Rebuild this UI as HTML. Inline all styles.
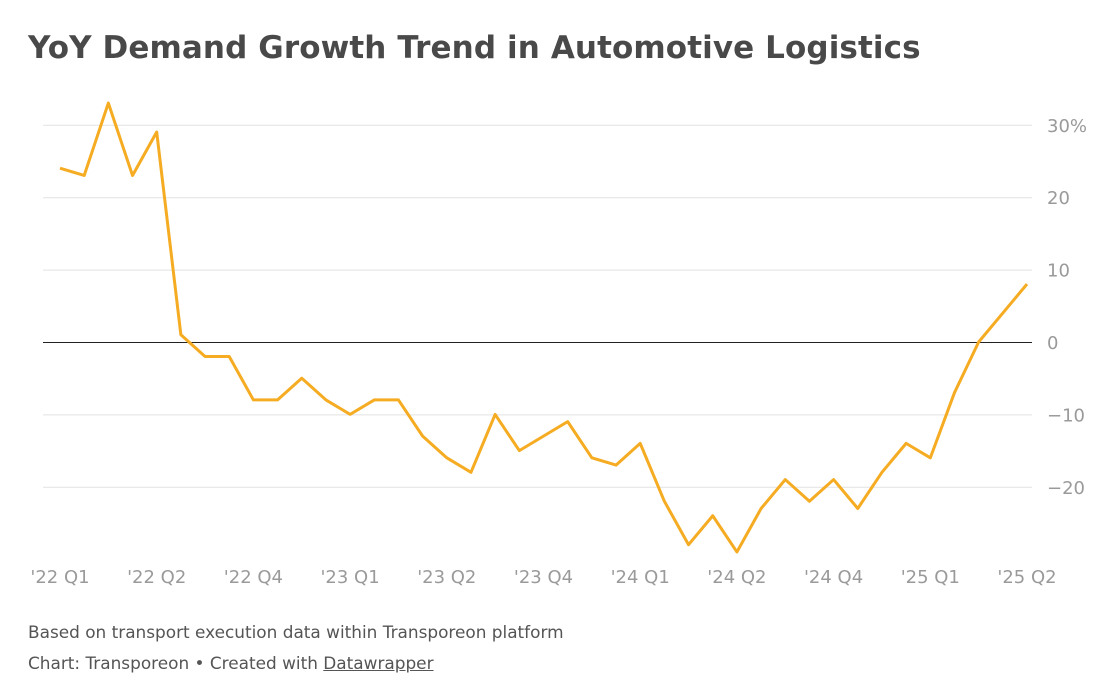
<!DOCTYPE html>
<html><head><meta charset="utf-8"><style>
body{margin:0;background:#fff;width:1113px;height:690px;overflow:hidden;font-family:"DejaVu Sans",sans-serif}
#title{position:absolute;left:28px;top:30px;font-size:31px;font-weight:bold;color:#494949;margin:0;letter-spacing:0.1px;white-space:nowrap}
.foot{position:absolute;left:28px;font-size:16.9px;color:#555;white-space:nowrap}
</style></head><body>
<h1 id="title">YoY Demand Growth Trend in Automotive Logistics</h1>
<svg id="chart" width="1113" height="600" style="position:absolute;left:0;top:0"></svg>
<div class="foot" style="top:622px">Based on transport execution data within Transporeon platform</div>
<div class="foot" style="top:653px">Chart: Transporeon • Created with <span style="text-decoration:underline">Datawrapper</span></div>
<script>
const values=[24,23,33,23,29,1,-2,-2,-8,-8,-5,-8,-10,-8,-8,-13,-16,-18,-10,-15,-13,-11,-16,-17,-14,-22,-28,-24,-29,-23,-19,-22,-19,-23,-18,-14,-16,-7,0,4,8];
const xLabels=["'22 Q1","'22 Q2","'22 Q4","'23 Q1","'23 Q2","'23 Q4","'24 Q1","'24 Q2","'24 Q4","'25 Q1","'25 Q2"];
const yTicks=[30,20,10,0,-10,-20];
const yTickLabels=["30%","20","10","0","−10","−20"];
const svg=document.getElementById('chart');
const NS='http://www.w3.org/2000/svg';
const x=i=>60+i*(1027-60)/(values.length-1);
const y=v=>342-v*7.24;
function mk(t,a){const e=document.createElementNS(NS,t);for(const k in a)e.setAttribute(k,a[k]);svg.appendChild(e);return e;}
yTicks.forEach((t,i)=>{
 const l=mk('line',{x1:43,x2:1032,y1:y(t)+0.5,y2:y(t)+0.5,stroke:t===0?'#222':'#e2e2e2','stroke-width':1});
 
 
 const tx=mk('text',{x:1047,y:y(t)+7,'font-size':18,fill:'#9a9a9a','font-family':'DejaVu Sans, sans-serif'});
 tx.textContent=yTickLabels[i];
 
 
});
xLabels.forEach((lab,i)=>{
 const tx=mk('text',{x:x(i*4),y:583,'font-size':18,fill:'#9a9a9a','text-anchor':'middle','font-family':'DejaVu Sans, sans-serif'});
 tx.textContent=lab;
 
 
});
const p=mk('polyline',{points:values.map((v,i)=>x(i)+','+y(v)).join(' '),fill:'none',stroke:'#f5ac22','stroke-width':3,'stroke-linejoin':'round'});


</script>
</body></html>
